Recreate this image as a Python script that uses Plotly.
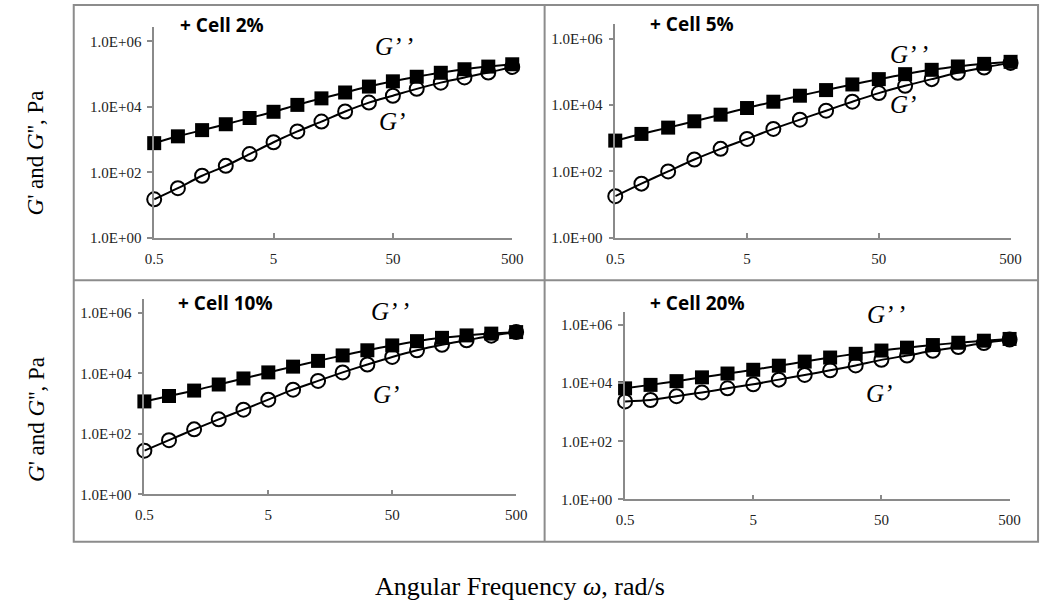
import plotly.graph_objects as go

W, H = 1052, 616

# Angular frequency (rad/s)
omega = [0.5, 0.79, 1.26, 1.99, 3.15, 5.0, 7.92, 12.6, 19.9, 31.5, 50.0, 79.2, 126, 199, 315, 500]

panel_titles = ["+ Cell 2%", "+ Cell 5%", "+ Cell 10%", "+ Cell 20%"]

# Storage modulus G' (Pa)
g1_cell2 = [15, 33, 79, 158, 363, 832, 1780, 3550, 7240, 13500, 21900, 35500, 55000, 79400, 112000, 166000]
g1_cell5 = [18, 43, 100, 229, 479, 955, 1910, 3630, 6760, 12600, 22900, 38000, 60300, 93300, 135000, 186000]
g1_cell10 = [28, 62, 141, 302, 631, 1350, 2880, 5620, 10700, 19500, 34700, 57500, 87100, 123000, 174000, 229000]
g1_cell20 = [2340, 2630, 3550, 4790, 6610, 9120, 13200, 19100, 27500, 40700, 63100, 89100, 129000, 174000, 240000, 316000]

# Loss modulus G'' (Pa)
g2_cell2 = [780, 1260, 1950, 2950, 4570, 7080, 11500, 18200, 27500, 41700, 60300, 83200, 110000, 141000, 170000, 200000]
g2_cell5 = [850, 1350, 2090, 3240, 5130, 8130, 12600, 19100, 28200, 41700, 60300, 85100, 115000, 145000, 174000, 200000]
g2_cell10 = [1180, 1780, 2690, 4270, 6760, 10700, 16600, 25700, 38900, 57500, 83200, 115000, 148000, 178000, 204000, 229000]
g2_cell20 = [6610, 8710, 11700, 15800, 21400, 28800, 39800, 55000, 75900, 102000, 132000, 166000, 204000, 245000, 288000, 331000]

y_tickvals = [1, 1e2, 1e4, 1e6]
y_ticktext = ["1.0E+00", "1.0E+02", "1.0E+04", "1.0E+06"]
x_tickvals = [0.5, 5, 50, 500]
x_ticktext = ["0.5", "5", "50", "500"]

g1_all = [g1_cell2, g1_cell5, g1_cell10, g1_cell20]
g2_all = [g2_cell2, g2_cell5, g2_cell10, g2_cell20]

# layout in pixels: (x_left, x_right, y_bottom, y_top)
panels = [
    (148, 513, 241, 27),
    (618, 1021, 241, 24),
    (138, 517, 501, 303),
    (628, 1020, 506, 316),
]
title_pos = [(217, 25), (696, 24), (221, 307), (702, 307)]
gpp_pos = [(392, 47), (917, 55), (388, 316), (894, 319)]
gp_pos = [(390, 123), (911, 106), (384, 400), (887, 399)]

def px(x):
    return x / W

def py(y):
    return 1 - y / H

fig = go.Figure()
AX = "#8a8a8a"
serif = "Liberation Serif"

for i in range(4):
    n = "" if i == 0 else str(i + 1)
    xa, ya = "x" + n, "y" + n
    fig.add_trace(go.Scatter(
        x=omega, y=g1_all[i], xaxis=xa, yaxis=ya, mode="lines+markers",
        line=dict(color="black", width=2, shape="spline", smoothing=0.8),
        marker=dict(symbol="circle-open", size=14, color="black", line=dict(width=2, color="black")),
        cliponaxis=False, showlegend=False, name="G'"))
    fig.add_trace(go.Scatter(
        x=omega, y=g2_all[i], xaxis=xa, yaxis=ya, mode="lines+markers",
        line=dict(color="black", width=2, shape="spline", smoothing=0.8),
        marker=dict(symbol="square", size=14, color="black"),
        cliponaxis=False, showlegend=False, name="G''"))
    xl, xr, yb, yt = panels[i]
    fig.layout["xaxis" + n] = dict(
        type="log", domain=[px(xl), px(xr)], anchor=ya,
        range=[-0.3011, 2.6991], tickvals=x_tickvals, ticktext=x_ticktext,
        showgrid=False, zeroline=False, showline=True, linecolor=AX, linewidth=1.5,
        ticks="inside", ticklen=5, tickcolor=AX, tickwidth=1.5, ticklabelstandoff=6,
        tickfont=dict(family=serif, size=15, color="#222"))
    fig.layout["yaxis" + n] = dict(
        type="log", domain=[py(yb), py(yt)], anchor=xa,
        range=[0, 6.45], tickvals=y_tickvals, ticktext=y_ticktext,
        showgrid=False, zeroline=False, showline=True, linecolor=AX, linewidth=1.5,
        ticks="outside", ticklen=5, tickcolor=AX, tickwidth=1.5, ticklabelstandoff=3,
        tickfont=dict(family=serif, size=15, color="#222"))

annotations = []
for i in range(4):
    tx, ty = title_pos[i]
    annotations.append(dict(x=px(tx), y=py(ty), xref="paper", yref="paper",
                            text="<b>" + panel_titles[i] + "</b>", showarrow=False,
                            font=dict(family="Open Sans", size=19, color="black"),
                            xanchor="center", yanchor="middle"))
    gx, gy = gpp_pos[i]
    annotations.append(dict(x=px(gx), y=py(gy), xref="paper", yref="paper",
                            text="<i>G’ ’</i>", showarrow=False,
                            font=dict(family=serif, size=25, color="black"),
                            xanchor="center", yanchor="middle"))
    gx, gy = gp_pos[i]
    annotations.append(dict(x=px(gx), y=py(gy), xref="paper", yref="paper",
                            text="<i>G’</i>", showarrow=False,
                            font=dict(family=serif, size=25, color="black"),
                            xanchor="center", yanchor="middle"))

ytitle = "<i>G</i>' and <i>G</i>'', Pa"
for yc in (155, 425):
    annotations.append(dict(x=px(28), y=py(yc), xref="paper", yref="paper",
                            text=ytitle, showarrow=False, textangle=-90,
                            font=dict(family=serif, size=23, color="black"),
                            xanchor="center", yanchor="middle"))
annotations.append(dict(x=px(521), y=py(594), xref="paper", yref="paper",
                        text="Angular Frequency <i>ω</i>, rad/s", showarrow=False,
                        font=dict(family=serif, size=26, color="black"),
                        xanchor="center", yanchor="middle"))

BC = "#8c8c8c"
shapes = [
    dict(type="rect", xref="paper", yref="paper", x0=px(66), x1=px(1049), y0=py(549), y1=py(5),
         line=dict(color=BC, width=2)),
    dict(type="line", xref="paper", yref="paper", x0=px(546), x1=px(546), y0=py(549), y1=py(5),
         line=dict(color=BC, width=2)),
    dict(type="line", xref="paper", yref="paper", x0=px(66), x1=px(1049), y0=py(284), y1=py(284),
         line=dict(color=BC, width=2)),
]

fig.update_layout(width=W, height=H, margin=dict(l=0, r=0, t=0, b=0),
                  paper_bgcolor="white", plot_bgcolor="white",
                  annotations=annotations, shapes=shapes, showlegend=False)

fig.write_html("out.html")
